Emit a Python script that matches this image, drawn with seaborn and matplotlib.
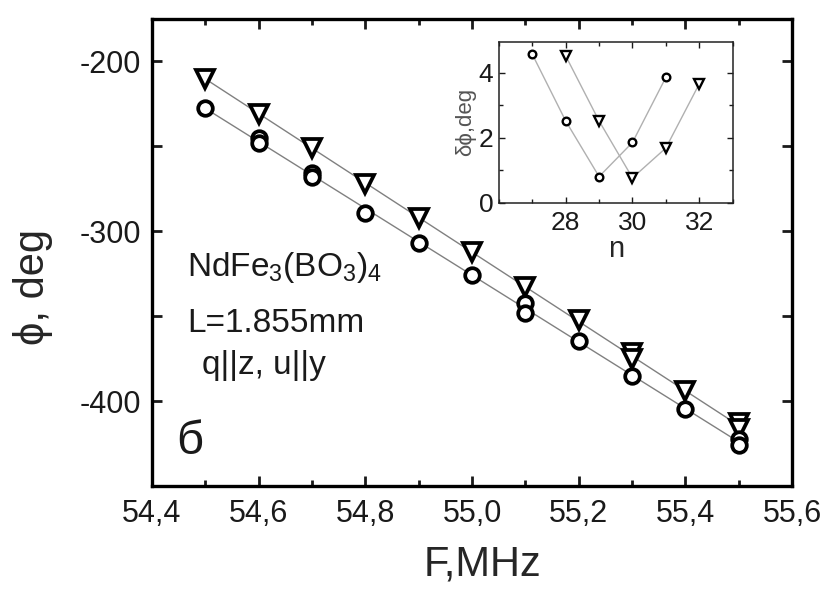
import numpy as np
import pandas as pd
import matplotlib
matplotlib.use("Agg")
import matplotlib.pyplot as plt
from matplotlib.ticker import MultipleLocator, FuncFormatter
import seaborn as sns

# ---- data ----
F_tri = [54.5, 54.6, 54.7, 54.8, 54.9, 55.0, 55.1, 55.2, 55.3, 55.3, 55.4, 55.5, 55.5]
phi_tri = [-210.5, -230.7, -251.0, -272.0, -292.0, -312.0, -333.0, -352.0, -371.5, -375.0, -394.0, -413.0, -416.5]
F_circ = [54.5, 54.6, 54.6, 54.7, 54.7, 54.8, 54.9, 55.0, 55.1, 55.1, 55.2, 55.3, 55.4, 55.5, 55.5]
phi_circ = [-227.7, -245.0, -248.0, -265.5, -268.0, -289.0, -306.8, -326.0, -342.0, -348.0, -364.6, -385.0, -404.7, -422.0, -425.5]

n_circ = [27, 28, 29, 30, 31]
dphi_circ = [4.57, 2.52, 0.81, 1.86, 3.86]
n_tri = [28, 29, 30, 31, 32]
dphi_tri = [4.52, 2.52, 0.77, 1.69, 3.66]

x_ticks = [54.4, 54.6, 54.8, 55.0, 55.2, 55.4, 55.6]
y_ticks = [-200, -300, -400]
inset_x_ticks = [28, 30, 32]
inset_y_ticks = [0, 2, 4]

sample_lines = ["NdFe$_3$(BO$_3$)$_4$", "L=1.855mm", "q||z, u||y"]
panel_label = "б"

# ---- style ----
sns.set_style("ticks")
plt.rcParams["font.family"] = ["Liberation Sans", "DejaVu Sans"]
plt.rcParams["mathtext.fontset"] = "custom"
plt.rcParams["mathtext.rm"] = "Liberation Sans"
plt.rcParams["mathtext.it"] = "Liberation Sans"
plt.rcParams["axes.unicode_minus"] = False
plt.rcParams["text.color"] = "#1a1a1a"

fig = plt.figure(figsize=(8.26, 5.90), dpi=100)
ax = fig.add_axes([0.184, 0.176, 0.775, 0.792])

df_t = pd.DataFrame({"F": F_tri, "phi": phi_tri})
df_c = pd.DataFrame({"F": F_circ, "phi": phi_circ})

fitcol = "#808080"
sns.regplot(data=df_t, x="F", y="phi", scatter=False, ci=None, truncate=True,
            line_kws=dict(color=fitcol, lw=1.0, zorder=1), ax=ax)
sns.regplot(data=df_c, x="F", y="phi", scatter=False, ci=None, truncate=True,
            line_kws=dict(color=fitcol, lw=1.0, zorder=1), ax=ax)

sns.lineplot(data=df_t, x="F", y="phi", estimator=None, sort=False, linestyle="none",
             marker="v", ms=13.5, mew=2.7, mfc="white", mec="black", color="black",
             zorder=3, ax=ax)
sns.lineplot(data=df_c, x="F", y="phi", estimator=None, sort=False, linestyle="none",
             marker="o", ms=10.5, mew=2.7, mfc="white", mec="black", color="black",
             zorder=3, ax=ax)

ax.set_xlim(54.4, 55.6)
ax.set_ylim(-450, -175)
ax.set_xticks(x_ticks)
ax.xaxis.set_minor_locator(MultipleLocator(0.1))
ax.set_yticks(y_ticks)
ax.yaxis.set_minor_locator(MultipleLocator(50))
ax.xaxis.set_major_formatter(FuncFormatter(lambda v, p: f"{v:.1f}".replace(".", ",")))
ax.tick_params(which="both", direction="in", top=True, right=True, width=2.0,
               labelsize=22, colors="#1a1a1a")
ax.tick_params(axis="x", which="major", length=7, pad=9)
ax.tick_params(axis="x", which="minor", length=4.5)
ax.tick_params(axis="y", which="both", length=7, pad=8)
for s in ax.spines.values():
    s.set_linewidth(2.4)
    s.set_color("black")
ax.set_xlabel("F,MHz", fontsize=30)
ax.set_ylabel("ϕ, deg", fontsize=30)
ax.xaxis.set_label_coords(0.516, -0.125)
ax.yaxis.set_label_coords(-0.155, 0.426)

ax.text(0.055, 0.467, sample_lines[0], transform=ax.transAxes, fontsize=24,
        ha="left", va="center")
ax.text(0.055, 0.349, sample_lines[1], transform=ax.transAxes, fontsize=24,
        ha="left", va="center")
ax.text(0.078, 0.259, sample_lines[2], transform=ax.transAxes, fontsize=24,
        ha="left", va="center")
ax.text(0.038, 0.094, panel_label, transform=ax.transAxes, fontsize=34,
        ha="left", va="center")

# ---- inset ----
ins = fig.add_axes([0.604, 0.656, 0.283, 0.273])
dfi_c = pd.DataFrame({"n": n_circ, "d": dphi_circ})
dfi_t = pd.DataFrame({"n": n_tri, "d": dphi_tri})
lc = "#b0b0b0"
sns.lineplot(data=dfi_c, x="n", y="d", estimator=None, sort=False, color=lc, lw=1.0,
             marker="o", ms=5.5, mew=1.7, mfc="white", mec="black", ax=ins)
sns.lineplot(data=dfi_t, x="n", y="d", estimator=None, sort=False, color=lc, lw=1.0,
             marker="v", ms=7.5, mew=1.7, mfc="white", mec="black", ax=ins)
ins.set_xlim(26, 33)
ins.set_ylim(0, 4.95)
ins.set_xticks(inset_x_ticks)
ins.xaxis.set_minor_locator(MultipleLocator(1))
ins.set_yticks(inset_y_ticks)
ins.yaxis.set_minor_locator(MultipleLocator(1))
ins.tick_params(which="both", direction="in", top=True, right=True, width=1.0,
                labelsize=19, colors="#1a1a1a")
ins.tick_params(axis="x", which="both", pad=6)
ins.tick_params(axis="y", which="both", pad=4)
ins.tick_params(which="major", length=4)
ins.tick_params(which="minor", length=3)
for s in ins.spines.values():
    s.set_linewidth(1.1)
    s.set_color("#222222")
ins.set_xlabel("n", fontsize=21, labelpad=0)
ins.set_ylabel("δϕ,deg", fontsize=16, labelpad=2, color="#555555")

fig.savefig("out.png", dpi=100, facecolor="white")
